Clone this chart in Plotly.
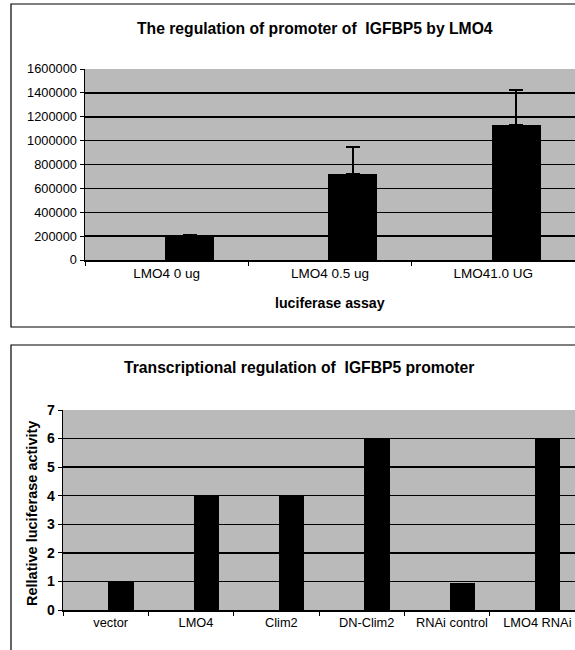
import plotly.graph_objects as go

W, H = 575, 650

# ---- data ----
top_title = "The regulation of promoter of  IGFBP5 by LMO4"
top_categories = ["LMO4 0 ug", "LMO4 0.5 ug", "LMO41.0 UG"]
top_values = [200000, 717000, 1133000]
top_errors = [8000, 233000, 289000]
top_xlabel = "luciferase assay"
top_yticks = [0, 200000, 400000, 600000, 800000, 1000000, 1200000, 1400000, 1600000]

bot_title = "Transcriptional regulation of  IGFBP5 promoter"
bot_categories = ["vector", "LMO4", "Clim2", "DN-Clim2", "RNAi control", "LMO4 RNAi"]
bot_values = [1.0, 4.0, 4.0, 6.0, 0.95, 6.0]
bot_ylabel = "Rellative luciferase activity"
bot_yticks = [0, 1, 2, 3, 4, 5, 6, 7]

FONT = "Liberation Sans, Arial, sans-serif"
BG = "#bababa"


def px(x):
    return x / W


def py(y):
    return 1 - y / H


fig = go.Figure()

fig.add_trace(go.Bar(
    x=top_categories, y=top_values, xaxis="x", yaxis="y",
    marker=dict(color="black", line=dict(width=0)),
    width=0.3, offset=-0.01,
    error_y=dict(type="data", array=top_errors, symmetric=False,
                 arrayminus=[0] * len(top_errors),
                 color="black", thickness=2, width=7),
    showlegend=False,
))

fig.add_trace(go.Bar(
    x=bot_categories, y=bot_values, xaxis="x2", yaxis="y2",
    marker=dict(color="black", line=dict(width=0)),
    width=0.3, offset=0.03,
    showlegend=False,
))

axis_common = dict(showline=True, linecolor="black", linewidth=1.5,
                   ticks="outside", tickcolor="black", ticklen=4,
                   automargin=False, zeroline=False, fixedrange=True)

fig.update_layout(
    template="none",
    width=W, height=H,
    margin=dict(l=0, r=0, t=0, b=0),
    paper_bgcolor="white",
    plot_bgcolor=BG,
    bargap=0,
    hovermode=False,
    xaxis=dict(domain=[px(85), 1], range=[-0.5, 2.5], anchor="y",
               type="category", tickson="boundaries", showgrid=False,
               tickfont=dict(family=FONT, size=13.5, color="black"),
               **axis_common),
    yaxis=dict(domain=[py(260), py(69)], range=[0, 1600000], anchor="x",
               tickvals=top_yticks, ticktext=[str(v) for v in top_yticks],
               showgrid=True, gridcolor="black", gridwidth=1.5,
               tickfont=dict(family=FONT, size=12.8, color="black"),
               **axis_common),
    xaxis2=dict(domain=[px(63), 1], range=[-0.5, 5.5], anchor="y2",
                type="category", tickson="boundaries", showgrid=False,
                ticklabelshift=5,
                tickfont=dict(family=FONT, size=12.8, color="black"),
                **axis_common),
    yaxis2=dict(domain=[py(610), py(410)], range=[0, 7], anchor="x2",
                tickvals=bot_yticks,
                ticktext=["<b>%d</b>" % v for v in bot_yticks],
                showgrid=True, gridcolor="black", gridwidth=1.5,
                tickfont=dict(family=FONT, size=14, color="black"),
                **axis_common),
)

annotations = [
    dict(text="<b>" + top_title + "</b>", x=px(315), y=py(28), size=15.7),
    dict(text="<b>" + top_xlabel + "</b>", x=px(330), y=py(303), size=14.2),
    dict(text="<b>" + bot_title + "</b>", x=px(299), y=py(367), size=15.7),
    dict(text="<b>" + bot_ylabel + "</b>", x=px(32), y=py(514), size=14.5,
         textangle=-90),
]
for a in annotations:
    size = a.pop("size")
    fig.add_annotation(xref="paper", yref="paper", showarrow=False,
                       xanchor="center", yanchor="middle",
                       font=dict(family=FONT, size=size, color="black"), **a)

# chart frames
fig.add_shape(type="rect", xref="paper", yref="paper",
              x0=px(11), x1=px(600), y0=py(327), y1=py(4),
              line=dict(color="black", width=1.2), fillcolor="rgba(0,0,0,0)",
              layer="below")
fig.add_shape(type="rect", xref="paper", yref="paper",
              x0=px(11), x1=px(600), y0=py(680), y1=py(345),
              line=dict(color="black", width=1.2), fillcolor="rgba(0,0,0,0)",
              layer="below")

# remove the default page margin so the figure fills the window exactly
fig.write_html(
    "out.html",
    config={"displayModeBar": False, "staticPlot": True},
    post_script="document.body.style.margin='0px';"
                "document.body.style.overflow='hidden';",
)
